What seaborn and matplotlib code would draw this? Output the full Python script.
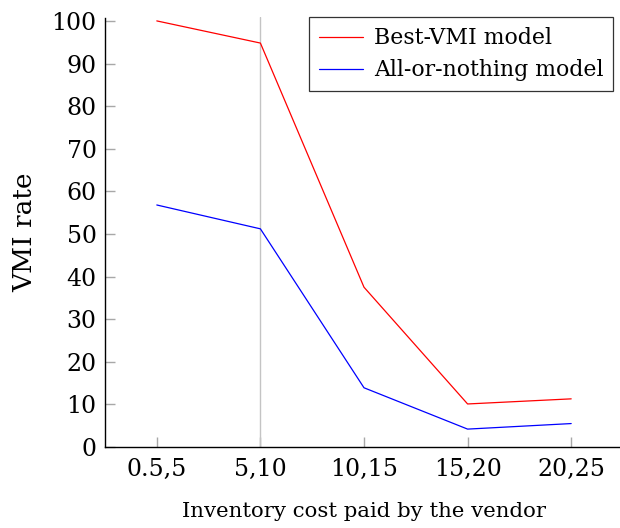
import matplotlib
matplotlib.use("Agg")
import matplotlib.pyplot as plt
import seaborn as sns
import pandas as pd
import numpy as np

# Inventory cost ranges paid by the vendor
categories = ["0.5,5", "5,10", "10,15", "15,20", "20,25"]
best_vmi = [100.0, 94.8, 37.5, 10.1, 11.3]
all_or_nothing = [56.8, 51.2, 13.9, 4.2, 5.5]
y_ticks = [0, 10, 20, 30, 40, 50, 60, 70, 80, 90, 100]

sns.set_theme(style="white")
plt.rcParams["font.family"] = ["DejaVu Serif"]
plt.rcParams["mathtext.fontset"] = "dejavuserif"
plt.rcParams["text.color"] = "black"
plt.rcParams["axes.labelcolor"] = "black"

pos = np.arange(len(categories))
df = pd.DataFrame({
    "pos": np.concatenate([pos, pos]),
    "rate": best_vmi + all_or_nothing,
    "model": ["Best-VMI model"] * len(categories) + ["All-or-nothing model"] * len(categories),
})

fig = plt.figure(figsize=(6.2, 5.28), dpi=100)
ax = fig.add_axes([105 / 620, 1 - 447 / 528, 518 / 620, (447 - 17.5) / 528])

# vertical reference line at the 5,10 range
ax.axvline(1, color="#c4c4c4", lw=1.0, zorder=1)

sns.lineplot(data=df, x="pos", y="rate", hue="model",
             palette={"Best-VMI model": "#ff0000", "All-or-nothing model": "#0000ff"},
             linewidth=0.9, ax=ax, zorder=3)

ax.set_xlim(-0.5, 4.5)
ax.set_ylim(0, 100.8)
ax.set_xticks(pos, categories)
ax.set_yticks(y_ticks)

for side in ["top", "right"]:
    ax.spines[side].set_visible(False)
for side in ["left", "bottom"]:
    ax.spines[side].set_color("black")
    ax.spines[side].set_linewidth(1.0)

ax.tick_params(axis="both", direction="in", length=7.5, width=1.0, color="#a8a8a8",
               labelsize=17, labelcolor="black", bottom=True, left=True)
ax.tick_params(axis="y", pad=6)
ax.tick_params(axis="x", pad=8)

ax.set_xlabel("Inventory cost paid by the vendor", fontsize=15.3, labelpad=15, color="black")
ax.set_ylabel("VMI rate", fontsize=19, labelpad=10, color="black")

leg = ax.legend(loc="upper right", bbox_to_anchor=(1.0 - 10 / 518, 1.0), fontsize=15.8,
                frameon=True, fancybox=False, handlelength=2.0, handletextpad=0.5,
                borderpad=0.45, labelspacing=0.45, borderaxespad=0.0)
leg.get_frame().set_edgecolor("black")
leg.get_frame().set_linewidth(0.9)
for t in leg.get_texts():
    t.set_color("black")

fig.savefig("out.png", dpi=100)
